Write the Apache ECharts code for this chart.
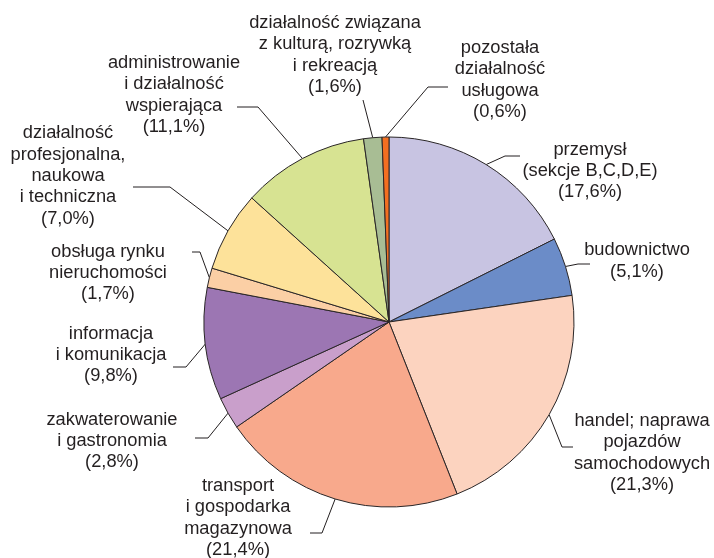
<!DOCTYPE html>
<html>
<head>
<meta charset="utf-8">
<script src="https://cdn.jsdelivr.net/npm/echarts@6/dist/echarts.min.js"></script>
<style>
html,body{margin:0;padding:0;background:#fff;}
#chart{width:714px;height:558px;}
</style>
</head>
<body>
<div id="chart"></div>
<script>
// Data
const categories = [
  'przemysł\n(sekcje B,C,D,E)',
  'budownictwo',
  'handel; naprawa\npojazdów\nsamochodowych',
  'transport\ni gospodarka\nmagazynowa',
  'zakwaterowanie\ni gastronomia',
  'informacja\ni komunikacja',
  'obsługa rynku\nnieruchomości',
  'działalność\nprofesjonalna,\nnaukowa\ni techniczna',
  'administrowanie\ni działalność\nwspierająca',
  'działalność związana\nz kulturą, rozrywką\ni rekreacją',
  'pozostała\ndziałalność\nusługowa'
];
const values = [17.6, 5.1, 21.3, 21.4, 2.8, 9.8, 1.7, 7.0, 11.1, 1.6, 0.6];

// Styles
const colors = ['#c8c4e2', '#6b8cc8', '#fcd3bf', '#f8a98c', '#c99fcb', '#9c76b3',
                '#fbcfa5', '#fde29a', '#d7e392', '#a8bd94', '#f36f21'];
// label block centers
const labelPos = [
  [590, 171], [637, 261], [642, 453], [238, 518], [112, 441], [111, 355],
  [108, 273], [68, 176], [174, 95], [335, 55], [500, 80]
];
// leader line elbow and end points
const leaderPts = [
  [[505, 156], [520, 156]],
  [[578, 264], [590, 264]],
  [[562, 447], [573, 447]],
  [[322, 533], [310, 533]],
  [[208, 438], [195, 438]],
  [[186, 367], [173, 367]],
  [[200, 252], [192, 252]],
  [[170, 187], [133, 187]],
  [[258, 107], [237, 107]],
  [[363, 100], [363, 100]],
  [[428, 87], [448, 87]]
];

const chart = echarts.init(document.getElementById('chart'), null, {renderer: 'canvas'});
chart.setOption({
  animation: false,
  backgroundColor: '#ffffff',
  series: [{
    type: 'pie',
    center: [389, 322],
    radius: 185,
    startAngle: 90,
    clockwise: true,
    avoidLabelOverlap: false,
    data: categories.map((c, i) => ({
      name: c,
      value: values[i],
      itemStyle: {color: colors[i]}
    })),
    itemStyle: {borderColor: '#2a2627', borderWidth: 1},
    label: {
      show: true,
      position: 'outside',
      color: '#231f20',
      fontFamily: 'Liberation Sans, Arial, sans-serif',
      fontSize: 18.3,
      lineHeight: 21.3,
      align: 'center',
      formatter: p => p.name + '\n(' + p.value.toFixed(1).replace('.', ',') + '%)'
    },
    labelLine: {
      show: true,
      length: 15,
      length2: 10,
      smooth: false,
      lineStyle: {color: '#231f20', width: 1}
    },
    labelLayout: function (params) {
      const i = params.dataIndex;
      const start = params.labelLinePoints ? params.labelLinePoints[0] : leaderPts[i][0];
      return {
        x: labelPos[i][0],
        y: labelPos[i][1],
        align: 'center',
        verticalAlign: 'middle',
        labelLinePoints: [start, leaderPts[i][0], leaderPts[i][1]]
      };
    },
    emphasis: {disabled: true}
  }]
});
</script>
</body>
</html>
